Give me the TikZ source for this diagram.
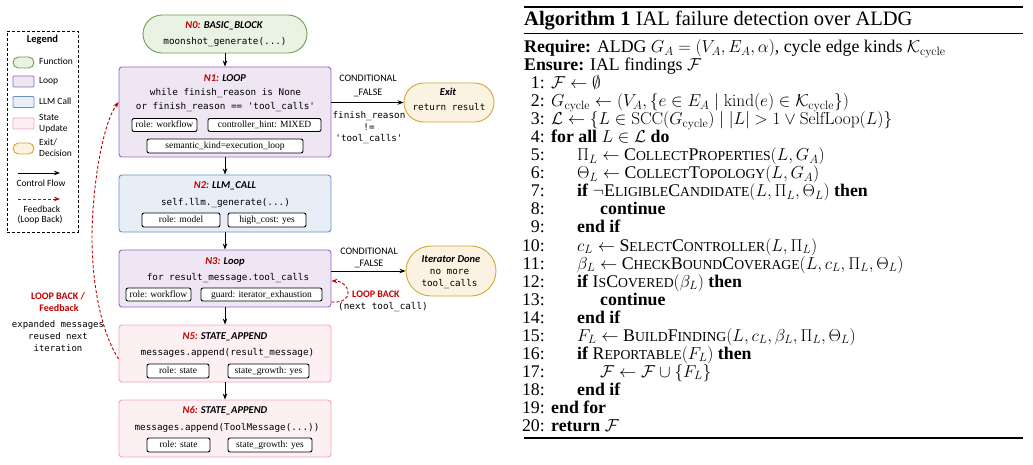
\documentclass[tikz,border=0pt]{standalone}
\usepackage[no-math]{fontspec}
\setmainfont{Liberation Serif}
\setmonofont{DejaVu Sans Mono}
\newfontfamily\sansf{Carlito}
\usetikzlibrary{arrows.meta}
\definecolor{redc}{HTML}{C00000}
\definecolor{fnB}{HTML}{6E9E5A}
\definecolor{fnF}{HTML}{EAF2E3}
\definecolor{lpB}{HTML}{9B65C4}
\definecolor{lpF}{HTML}{EFE6F4}
\definecolor{llB}{HTML}{6D8FC2}
\definecolor{llF}{HTML}{E8EEF7}
\definecolor{stB}{HTML}{F2A7BA}
\definecolor{stF}{HTML}{FDF0F3}
\definecolor{exB}{HTML}{D6A630}
\definecolor{exF}{HTML}{FBF3E2}
\newcommand\sck[1]{{\fontsize{13.7}{14}\selectfont #1}}
\newcommand\putalg[4]{\node[algf, anchor=base east] (aln#1) at (545,#2) {#1:}; \node[algf, anchor=base west] (alt#1) at (#3,#2) {#4};}
\begin{document}
\begin{tikzpicture}[x=1pt,y=-1pt,
  every node/.style={inner sep=0pt},
  ttl/.style={font=\sansf\bfseries\itshape\fontsize{10.5}{12}\selectfont, text height=7.5pt, text depth=1.5pt},
  cde/.style={font=\ttfamily\fontsize{9.3}{11}\selectfont, text height=7pt, text depth=2pt},
  bdg/.style={draw=black, fill=white, rounded corners=2pt, line width=0.9pt, font=\fontsize{9.5}{11}\selectfont, text height=7pt, text depth=1.5pt},
  lbl/.style={font=\sansf\fontsize{10}{12}\selectfont, text height=7.5pt, text depth=1.5pt},
  lgd/.style={font=\sansf\fontsize{9.5}{11}\selectfont, text height=7pt, text depth=1.5pt},
  redlbl/.style={lbl, font=\sansf\bfseries\fontsize{10}{12}\selectfont, text=redc},
  fnbox/.style={draw=fnB, fill=fnF, line width=0.9pt},
  lpbox/.style={draw=lpB, fill=lpF, line width=0.9pt, rounded corners=3pt},
  llbox/.style={draw=llB, fill=llF, line width=0.9pt, rounded corners=3pt},
  stbox/.style={draw=stB, fill=stF, line width=0.9pt, rounded corners=3pt},
  exbox/.style={draw=exB, fill=exF, line width=0.9pt},
  arr/.style={-{Stealth[length=6pt,width=4.5pt]}, line width=0.9pt},
  fbk/.style={-{Stealth[length=6pt,width=4.5pt]}, draw=redc, dash pattern=on 3pt off 2pt, line width=0.9pt},
  algf/.style={font=\fontsize{17.8}{18}\selectfont, text height=12pt, text depth=4pt},
]
\useasboundingbox (0,0) rectangle (1033,465);

% ---------- legend ----------
\node[draw, dash pattern=on 3pt off 2pt, line width=0.8pt, minimum width=71pt, minimum height=201pt] (legend) at (42.5,131.5) {};
\node[font=\sansf\bfseries\fontsize{10.5}{12}\selectfont] (legt) at (42.5,40) {Legend};
\node[fnbox, minimum width=21pt, minimum height=11pt, rounded corners=5.5pt] (lgfn) at (23.5,62.5) {};
\node[lgd, anchor=west] (lgfnt) at (39,61.5) {Function};
\node[lpbox, rounded corners=1pt, minimum width=21pt, minimum height=11pt] (lglp) at (23.5,81.5) {};
\node[lgd, anchor=west] (lglpt) at (39,81) {Loop};
\node[llbox, rounded corners=1pt, minimum width=21pt, minimum height=11pt] (lgll) at (23.5,102) {};
\node[lgd, anchor=west] (lgllt) at (39,101.5) {LLM Call};
\node[stbox, rounded corners=1pt, minimum width=21pt, minimum height=11pt] (lgst) at (23.5,123.5) {};
\node[lgd, anchor=west] (lgst1) at (39,118) {State};
\node[lgd, anchor=west] (lgst2) at (39,128.5) {Update};
\node[exbox, minimum width=21pt, minimum height=11pt, rounded corners=5.5pt] (lgex) at (23.5,148.5) {};
\node[lgd, anchor=west] (lgex1) at (39,143) {Exit/};
\node[lgd, anchor=west] (lgex2) at (39,154) {Decision};
\coordinate (cf1) at (18,173); \coordinate (cf2) at (60,173);
\draw[arr] (cf1) -- (cf2);
\node[lgd] (cft) at (41,183.5) {Control Flow};
\coordinate (fb1) at (18,199); \coordinate (fb2) at (60,199);
\draw[fbk] (fb1) -- (fb2);
\node[lgd] (fbt1) at (42,209.5) {Feedback};
\node[lgd] (fbt2) at (40,220) {(Loop Back)};

% ---------- flow ----------
\node[fnbox, minimum width=164pt, minimum height=38pt, rounded corners=19pt] (n0) at (225,34) {};
\node[ttl] (n0t) at (224,26) {\textcolor{redc}{N0:} BASIC\_BLOCK};
\node[cde] (n0c) at (225,42) {moonshot\_generate(...)};

\node[lpbox, minimum width=212pt, minimum height=90pt] (n1) at (225,112) {};
\node[ttl] (n1t) at (225,79) {\textcolor{redc}{N1:} LOOP};
\node[cde] (n1c1) at (225.5,93) {while finish\_reason is None};
\node[cde] (n1c2) at (225.5,107) {or finish\_reason == 'tool\_calls'};
\node[bdg, minimum width=65pt, minimum height=13pt] (n1b1) at (164.5,125) {role: workflow};
\node[bdg, minimum width=113pt, minimum height=13pt] (n1b2) at (264.5,125) {controller\_hint: MIXED};
\node[bdg, minimum width=156pt, minimum height=14pt] (n1b3) at (225,146) {semantic\_kind=execution\_loop};

\node[llbox, minimum width=212pt, minimum height=57pt] (n2) at (225,203.5) {};
\node[ttl] (n2t) at (225,186) {\textcolor{redc}{N2:} LLM\_CALL};
\node[cde] (n2c) at (225.5,203) {self.llm.\_generate(...)};
\node[bdg, minimum width=78pt, minimum height=14pt] (n2b1) at (181,220) {role: model};
\node[bdg, minimum width=78pt, minimum height=14pt] (n2b2) at (267,220) {high\_cost: yes};

\node[lpbox, minimum width=212pt, minimum height=57pt] (n3) at (225,278.5) {};
\node[ttl] (n3t) at (225,261) {\textcolor{redc}{N3:} Loop};
\node[cde] (n3c) at (228,278) {for result\_message.tool\_calls};
\node[bdg, minimum width=65pt, minimum height=13pt] (n3b1) at (158.5,294.5) {role: workflow};
\node[bdg, minimum width=121pt, minimum height=13pt] (n3b2) at (261.5,294.5) {guard: iterator\_exhaustion};

\node[stbox, minimum width=212pt, minimum height=57pt] (n5) at (225,353.5) {};
\node[ttl] (n5t) at (225,336) {\textcolor{redc}{N5:} STATE\_APPEND};
\node[cde] (n5c) at (227.5,353) {messages.append(result\_message)};
\node[bdg, minimum width=62pt, minimum height=14pt] (n5b1) at (178,371) {role: state};
\node[bdg, minimum width=81pt, minimum height=14pt] (n5b2) at (268.5,371) {state\_growth: yes};

\node[stbox, minimum width=212pt, minimum height=57pt] (n6) at (225,428.5) {};
\node[ttl] (n6t) at (225,410) {\textcolor{redc}{N6:} STATE\_APPEND};
\node[cde] (n6c) at (227,428) {messages.append(ToolMessage(...))};
\node[bdg, minimum width=63pt, minimum height=14pt] (n6b1) at (178.5,445) {role: state};
\node[bdg, minimum width=84pt, minimum height=14pt] (n6b2) at (270,445) {state\_growth: yes};

\draw[arr] (n0) -- (n1);
\draw[arr] (n1) -- (n2);
\draw[arr] (n2) -- (n3);
\draw[arr] (n3) -- (n5);
\draw[arr] (n5) -- (n6);

% exit
\node[exbox, minimum width=90pt, minimum height=39pt, rounded corners=19.5pt] (ex) at (449,102.5) {};
\node[ttl] (ext) at (448,93) {Exit};
\node[cde] (exc) at (449,108) {return result};
\draw[arr] (ex.west -| n1.east) -- (ex.west);
\node[lbl] (exl1) at (368,78.5) {CONDITIONAL};
\node[lbl] (exl2) at (368,92.5) {\_FALSE};
\node[cde] (exl3) at (369,116) {finish\_reason};
\node[cde] (exl4) at (369,128) {!=};
\node[cde] (exl5) at (369,139.5) {'tool\_calls'};

% iterator done
\node[exbox, minimum width=90pt, minimum height=50pt, rounded corners=25pt] (it) at (451,271) {};
\node[ttl] (itt) at (451,259) {Iterator Done};
\node[cde] (itc1) at (449.5,272) {no more};
\node[cde] (itc2) at (449.5,283.5) {tool\_calls};
\draw[arr] (it.west -| n3.east) -- (it.west);
\node[lbl] (itl1) at (369,251) {CONDITIONAL};
\node[lbl] (itl2) at (369,263) {\_FALSE};

% self loop on N3
\draw[fbk] ([yshift=-23.5pt]n3.east) .. controls (356,304) and (350,281) .. ([yshift=-2.5pt]n3.east);
\node[redlbl, anchor=west] (slt) at (352,294) {LOOP BACK};
\node[cde] (slc) at (383,307) {(next tool\_call)};

% feedback N5 -> N1
\draw[fbk] ([yshift=-5.5pt]n5.west) .. controls (100,330) and (92,280) .. (92,238) .. controls (92,190) and (102,125) .. ([yshift=10pt]n1.west);
\node[redlbl] (lbt1) at (58,296) {LOOP BACK /};
\node[redlbl] (lbt2) at (59,308) {Feedback};
\node[cde, font=\ttfamily\fontsize{9}{11}\selectfont] (lbc1) at (58,325) {expanded messages};
\node[cde, font=\ttfamily\fontsize{9}{11}\selectfont] (lbc2) at (58,337) {reused next};
\node[cde, font=\ttfamily\fontsize{9}{11}\selectfont] (lbc3) at (58,348.5) {iteration};

% ---------- algorithm ----------
\draw[line width=1.6pt] (524,7) -- (1023,7);
\node[anchor=base west, font=\fontsize{20.5}{24}\selectfont] (algt) at (524,26) {\textbf{Algorithm 1} IAL failure detection over ALDG};
\draw[line width=0.9pt] (524,33) -- (1023,33);
\node[algf, anchor=base west] (req) at (524,52.5) {\textbf{Require:} ALDG $G_A=(V_A,E_A,\alpha)$, cycle edge kinds $\mathcal{K}_{\mathrm{cycle}}$};
\node[algf, anchor=base west] (ens) at (524,70.5) {\textbf{Ensure:} IAL findings $\mathcal{F}$};
\putalg{1}{88.6}{551}{$\mathcal{F}\gets\emptyset$}
\putalg{2}{106.65}{551}{$G_{\mathrm{cycle}}\gets(V_A,\{e\in E_A\mid \mathrm{kind}(e)\in\mathcal{K}_{\mathrm{cycle}}\})$}
\putalg{3}{124.7}{551}{$\mathcal{L}\gets\{L\in\mathrm{SCC}(G_{\mathrm{cycle}})\mid |L|>1\lor\mathrm{SelfLoop}(L)\}$}
\putalg{4}{142.75}{551}{\textbf{for all} $L\in\mathcal{L}$ \textbf{do}}
\putalg{5}{160.8}{577}{$\Pi_L\gets$ C\sck{OLLECT}P\sck{ROPERTIES}$(L,G_A)$}
\putalg{6}{178.85}{577}{$\Theta_L\gets$ C\sck{OLLECT}T\sck{OPOLOGY}$(L,G_A)$}
\putalg{7}{196.9}{577}{\textbf{if} $\neg$E\sck{LIGIBLE}C\sck{ANDIDATE}$(L,\Pi_L,\Theta_L)$ \textbf{then}}
\putalg{8}{214.95}{600}{\textbf{continue}}
\putalg{9}{233.0}{577}{\textbf{end if}}
\putalg{10}{251.05}{577}{$c_L\gets$ S\sck{ELECT}C\sck{ONTROLLER}$(L,\Pi_L)$}
\putalg{11}{269.1}{577}{$\beta_L\gets$ C\sck{HECK}B\sck{OUND}C\sck{OVERAGE}$(L,c_L,\Pi_L,\Theta_L)$}
\putalg{12}{287.15}{577}{\textbf{if} I\sck{S}C\sck{OVERED}$(\beta_L)$ \textbf{then}}
\putalg{13}{305.2}{600}{\textbf{continue}}
\putalg{14}{323.25}{577}{\textbf{end if}}
\putalg{15}{341.3}{577}{$F_L\gets$ B\sck{UILD}F\sck{INDING}$(L,c_L,\beta_L,\Pi_L,\Theta_L)$}
\putalg{16}{359.35}{577}{\textbf{if} R\sck{EPORTABLE}$(F_L)$ \textbf{then}}
\putalg{17}{377.4}{600}{$\mathcal{F}\gets\mathcal{F}\cup\{F_L\}$}
\putalg{18}{395.45}{577}{\textbf{end if}}
\putalg{19}{413.5}{551}{\textbf{end for}}
\putalg{20}{431.55}{551}{\textbf{return} $\mathcal{F}$}
\draw[line width=1.6pt] (524,438) -- (1023,438);
\end{tikzpicture}
\end{document}
